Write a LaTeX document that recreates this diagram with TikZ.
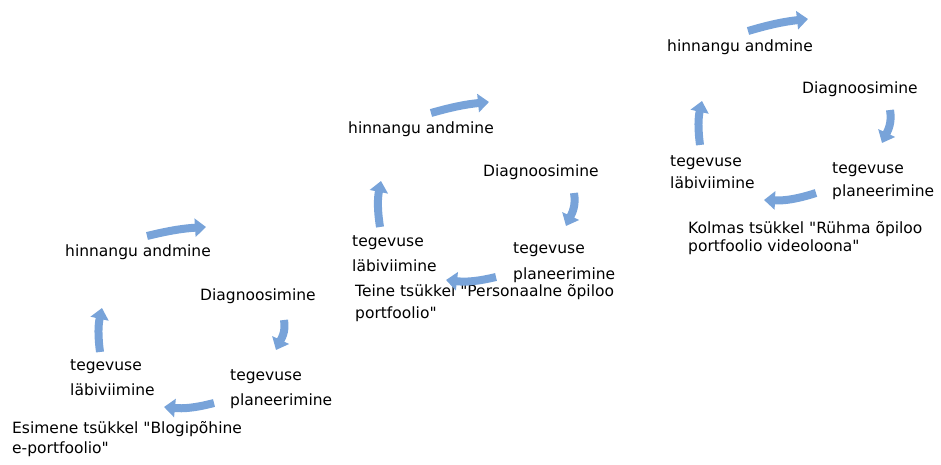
\documentclass[tikz,border=0pt]{standalone}
\usepackage{fontspec}
\setmainfont{DejaVu Sans}[Ligatures=TeXOff]
\usetikzlibrary{arrows.meta}
\definecolor{arrowblue}{RGB}{120,163,217}
\tikzset{
  lbl/.style={anchor=base west, inner sep=0pt, align=left, text=black,
    font=\fontsize{15.5}{#1}\selectfont},
  lbl/.default=25,
  cyc/.style={draw=arrowblue, line width=8pt,
    -{Triangle[width=18pt,length=11pt]}, arrowblue}
}
\begin{document}
\begin{tikzpicture}[x=1pt,y=1pt]
\useasboundingbox (0,0) rectangle (941,465);
% ---------- first cycle ----------
\node[lbl] (h1) at (65,208) {hinnangu andmine};
\node[lbl] (d1) at (200,164) {Diagnoosimine};
\node[lbl=25] (p1) at (230,59) {tegevuse\\planeerimine};
\node[lbl=25] (l1) at (70,69) {tegevuse\\läbiviimine};
\node[lbl=20] (c1) at (12,11) {Esimene tsükkel "Blogipõhine\\e-portfoolio"};
\coordinate (t1a) at (147,229); \coordinate (t1b) at (206,238);
\coordinate (r1a) at (284,145); \coordinate (r1b) at (276,115);
\coordinate (b1a) at (214,62);  \coordinate (b1b) at (164,58);
\coordinate (s1a) at (100,113); \coordinate (s1b) at (102,157);
\draw[cyc] (t1a) to[bend left=5] (t1b);
\draw[cyc] (r1a) to[out=-80,in=65] (r1b);
\draw[cyc] (b1a) to[bend left=10] (b1b);
\draw[cyc] (s1a) to[bend left=10] (s1b);
% ---------- second cycle ----------
\node[lbl] (h2) at (348,331) {hinnangu andmine};
\node[lbl] (d2) at (483,288) {Diagnoosimine};
\node[lbl=26] (p2) at (513,185) {tegevuse\\planeerimine};
\node[lbl=25] (l2) at (352,193) {tegevuse\\läbiviimine};
\node[lbl=22] (c2) at (355,146) {Teine tsükkel "Personaalne õpiloo\\portfoolio"};
\coordinate (t2a) at (431,352); \coordinate (t2b) at (489,363);
\coordinate (r2a) at (574,272); \coordinate (r2b) at (566,239);
\coordinate (b2a) at (496,188); \coordinate (b2b) at (446,185);
\coordinate (s2a) at (380,238); \coordinate (s2b) at (381,284);
\draw[cyc] (t2a) to[bend left=5] (t2b);
\draw[cyc] (r2a) to[out=-80,in=65] (r2b);
\draw[cyc] (b2a) to[bend left=10] (b2b);
\draw[cyc] (s2a) to[bend left=10] (s2b);
% ---------- third cycle ----------
\node[lbl] (h3) at (667,413) {hinnangu andmine};
\node[lbl] (d3) at (802,371) {Diagnoosimine};
\node[lbl=23] (p3) at (832,268) {tegevuse\\planeerimine};
\node[lbl=22] (l3) at (670,276) {tegevuse\\läbiviimine};
\node[lbl=18] (c3) at (688,213) {Kolmas tsükkel "Rühma õpiloo\\portfoolio videoloona"};
\coordinate (t3a) at (748,434); \coordinate (t3b) at (808,446);
\coordinate (r3a) at (890,355); \coordinate (r3b) at (882,322);
\coordinate (b3a) at (816,272); \coordinate (b3b) at (764,265);
\coordinate (s3a) at (700,320); \coordinate (s3b) at (702,364);
\draw[cyc] (t3a) to[bend left=5] (t3b);
\draw[cyc] (r3a) to[out=-80,in=65] (r3b);
\draw[cyc] (b3a) to[bend left=10] (b3b);
\draw[cyc] (s3a) to[bend left=10] (s3b);
\end{tikzpicture}
\end{document}
